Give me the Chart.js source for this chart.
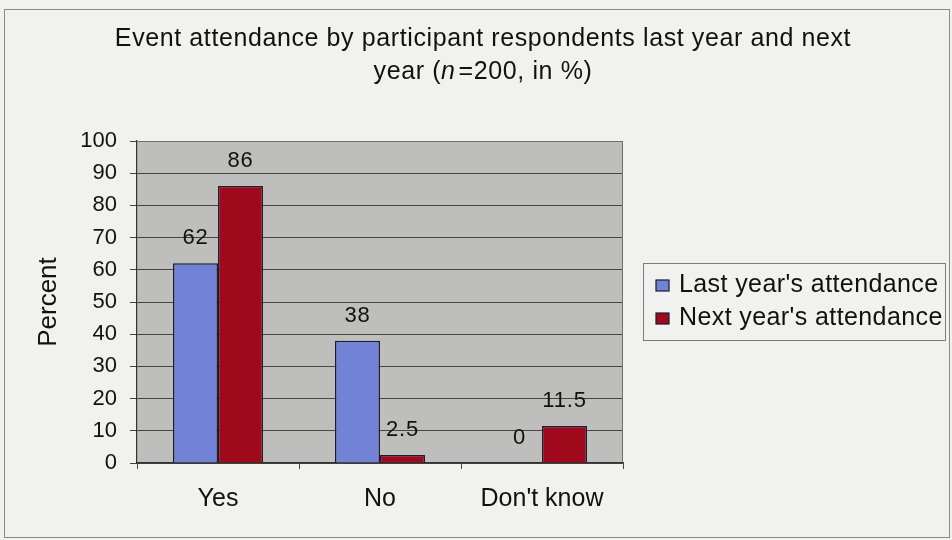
<!DOCTYPE html>
<html>
<head>
<meta charset="utf-8">
<title>Event attendance</title>
<script src="https://cdn.jsdelivr.net/npm/chart.js@4/dist/chart.umd.min.js"></script>
<style>
  html, body { margin: 0; padding: 0; background: #f1f2ef; }
  #wrap { position: relative; width: 952px; height: 540px; }
</style>
</head>
<body>
<div id="wrap"><canvas id="c" width="952" height="540"></canvas></div>
<script>
// Survey answers (percent of 200 participant respondents)
const categories = ["Yes", "No", "Don't know"];
const lastYear = [62, 38, 0];
const nextYear = [86, 2.5, 11.5];
const seriesNames = ["Last year's attendance", "Next year's attendance"];
const yTicks = [0, 10, 20, 30, 40, 50, 60, 70, 80, 90, 100];
const titleLine1 = "Event attendance by participant respondents last year and next";
const titleLine2 = ["year (", "n", "=200, in %)"];
const yAxisTitle = "Percent";

const FONT = "'Liberation Sans', Arial, sans-serif";
const INK = '#111111';
const BLUE = '#7282d6';
const RED = '#a0081c';

// page background, frame and the grey plot panel
const panelPlugin = {
  id: 'panel',
  beforeDraw(chart) {
    const { ctx, chartArea: a } = chart;
    ctx.save();
    ctx.fillStyle = '#f1f2ef';
    ctx.fillRect(0, 0, chart.width, chart.height);
    ctx.strokeStyle = '#8a8a8a';
    ctx.lineWidth = 1;
    ctx.strokeRect(4.5, 9.5, 945, 528);
    ctx.fillStyle = '#bebebd';
    ctx.fillRect(a.left, a.top, a.right - a.left, a.bottom - a.top);
    ctx.restore();
  },
  afterDatasetsDraw(chart) {
    const { ctx, chartArea: a } = chart;
    ctx.save();
    ctx.strokeStyle = '#6e6e6e';
    ctx.lineWidth = 1;
    ctx.beginPath();
    ctx.moveTo(a.left, a.top + 0.5);
    ctx.lineTo(a.right - 0.5, a.top + 0.5);
    ctx.lineTo(a.right - 0.5, a.bottom);
    ctx.stroke();
    ctx.restore();
  }
};

// value labels above each bar
const valueLabels = {
  id: 'valueLabels',
  afterDatasetsDraw(chart) {
    const { ctx } = chart;
    ctx.save();
    ctx.font = '22px ' + FONT;
    ctx.letterSpacing = '0.8px';
    ctx.fillStyle = INK;
    ctx.textAlign = 'center';
    ctx.textBaseline = 'middle';
    chart.data.datasets.forEach((ds, di) => {
      chart.getDatasetMeta(di).data.forEach((bar, i) => {
        ctx.fillText(String(ds.data[i]), bar.x, bar.y - 25);
      });
    });
    ctx.restore();
  }
};

// two-line heading with italic n
const heading = {
  id: 'heading',
  afterDraw(chart) {
    const { ctx } = chart;
    const cx = 483;
    ctx.save();
    ctx.fillStyle = INK;
    ctx.textBaseline = 'alphabetic';
    ctx.textAlign = 'left';
    ctx.letterSpacing = '0.6px';
    const normal = '25px ' + FONT;
    const italic = 'italic 25px ' + FONT;
    ctx.font = normal;
    const w1 = ctx.measureText(titleLine1).width;
    ctx.fillText(titleLine1, cx - w1 / 2, 46);
    const fonts = [normal, italic, normal];
    const gaps = [0, 3, 0];
    let total = 0;
    const widths = titleLine2.map((t, i) => {
      ctx.font = fonts[i];
      const w = ctx.measureText(t).width + gaps[i];
      total += w;
      return w;
    });
    let x = cx - total / 2;
    titleLine2.forEach((t, i) => {
      ctx.font = fonts[i];
      ctx.fillText(t, x, 79);
      x += widths[i];
    });
    ctx.restore();
  }
};

// boxed legend to the right of the plot
const boxLegend = {
  id: 'boxLegend',
  afterDraw(chart) {
    const { ctx } = chart;
    const box = { x: 643, y: 263, w: 302, h: 77 };
    ctx.save();
    ctx.strokeStyle = '#7c7c7c';
    ctx.lineWidth = 1;
    ctx.strokeRect(box.x + 0.5, box.y + 0.5, box.w, box.h);
    ctx.font = '25px ' + FONT;
    ctx.letterSpacing = '0.4px';
    ctx.textBaseline = 'alphabetic';
    ctx.textAlign = 'left';
    const baselines = [292, 325];
    chart.data.datasets.forEach((ds, i) => {
      const by = baselines[i];
      ctx.fillStyle = ds.backgroundColor;
      ctx.fillRect(656, by - 12, 13, 11);
      ctx.strokeStyle = '#1c1c28';
      ctx.lineWidth = 1.2;
      ctx.strokeRect(656, by - 12, 13, 11);
      ctx.fillStyle = INK;
      ctx.fillText(ds.label, 679, by);
    });
    ctx.restore();
  }
};

new Chart(document.getElementById('c'), {
  type: 'bar',
  data: {
    labels: categories,
    datasets: [
      { label: seriesNames[0], data: lastYear, backgroundColor: BLUE,
        borderColor: '#1c1c2c', borderWidth: 1.5, borderSkipped: 'bottom' },
      { label: seriesNames[1], data: nextYear, backgroundColor: RED,
        borderColor: '#1c1c2c', borderWidth: 1.5, borderSkipped: 'bottom' }
    ]
  },
  options: {
    responsive: false,
    animation: false,
    devicePixelRatio: 1,
    layout: { padding: { top: 141, right: 329, bottom: 0, left: 30 } },
    datasets: { bar: { categoryPercentage: 90 / 162, barPercentage: 1 } },
    plugins: {
      legend: { display: false },
      title: { display: false },
      tooltip: { enabled: false }
    },
    scales: {
      x: {
        offset: true,
        grid: { offset: true, drawOnChartArea: false, tickLength: 6, color: '#444444' },
        border: { color: '#333333', width: 1.2 },
        ticks: { font: { family: FONT, size: 25 }, color: INK, padding: 15 },
        afterFit(scale) { scale.height = 77; }
      },
      y: {
        min: 0,
        max: 100,
        afterBuildTicks(scale) { scale.ticks = yTicks.map(v => ({ value: v })); },
        grid: { color: '#454545', lineWidth: 1, tickLength: 7 },
        border: { color: '#333333', width: 1.2 },
        ticks: { font: { family: FONT, size: 22 }, color: INK, padding: 13 },
        title: { display: true, text: yAxisTitle, font: { family: FONT, size: 26 },
                 color: INK, padding: { top: 3, bottom: 0 } },
        afterFit(scale) { scale.width = 107; }
      }
    }
  },
  plugins: [panelPlugin, valueLabels, heading, boxLegend]
});
</script>
</body>
</html>
